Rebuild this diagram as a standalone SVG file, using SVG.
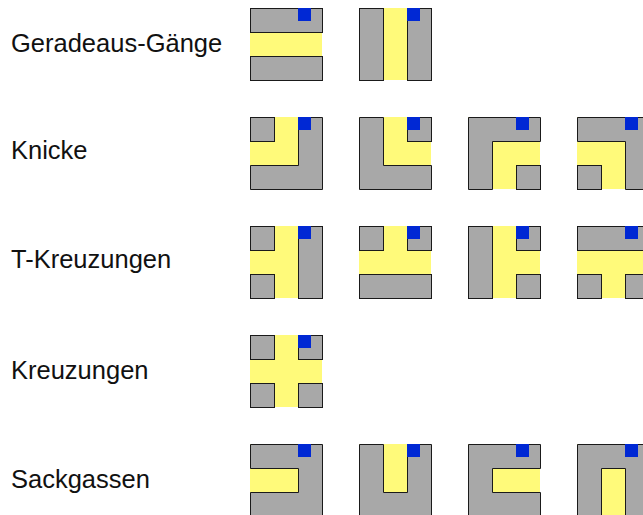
<svg xmlns="http://www.w3.org/2000/svg" width="643" height="515" viewBox="0 0 643 515">
<style>
.lbl{font-family:"Liberation Sans",Arial,Helvetica,sans-serif;font-size:25.5px;fill:#111}
.bg{fill:#fffa7a}
.w{fill:#a8a8a8;stroke:#1a1a1a;stroke-width:1}
.m{fill:#0028d4}
</style>
<rect width="643" height="515" fill="#fff"/>
<g id="labels">
<text class="lbl" x="11" y="52">Geradeaus-Gänge</text>
<text class="lbl" x="11" y="159">Knicke</text>
<text class="lbl" x="11" y="268">T-Kreuzungen</text>
<text class="lbl" x="11" y="379">Kreuzungen</text>
<text class="lbl" x="11" y="488">Sackgassen</text>
</g>
<g id="connectors"></g>
<!-- Row 1 -->
<g id="gerade1" transform="translate(250,8)"><rect class="bg" width="72" height="72"/><rect class="w" x="0.5" y="0.5" width="72" height="24"/><rect class="w" x="0.5" y="48.5" width="72" height="24"/><rect class="m" x="48" y="0" width="13" height="13"/></g>
<g id="gerade2" transform="translate(359,8)"><rect class="bg" width="72" height="72"/><rect class="w" x="0.5" y="0.5" width="24" height="72"/><rect class="w" x="48.5" y="0.5" width="24" height="72"/><rect class="m" x="48" y="0" width="13" height="13"/></g>
<!-- Row 2 -->
<g id="knick1" transform="translate(250,117)"><rect class="bg" width="72" height="72"/><rect class="w" x="0.5" y="0.5" width="24" height="24"/><polygon class="w" points="48.5,0.5 72.5,0.5 72.5,72.5 0.5,72.5 0.5,48.5 48.5,48.5"/><rect class="m" x="48" y="0" width="13" height="13"/></g>
<g id="knick2" transform="translate(359,117)"><rect class="bg" width="72" height="72"/><polygon class="w" points="0.5,0.5 24.5,0.5 24.5,48.5 72.5,48.5 72.5,72.5 0.5,72.5"/><rect class="w" x="48.5" y="0.5" width="24" height="24"/><rect class="m" x="48" y="0" width="13" height="13"/></g>
<g id="knick3" transform="translate(468,117)"><rect class="bg" width="72" height="72"/><polygon class="w" points="0.5,0.5 72.5,0.5 72.5,24.5 24.5,24.5 24.5,72.5 0.5,72.5"/><rect class="w" x="48.5" y="48.5" width="24" height="24"/><rect class="m" x="48" y="0" width="13" height="13"/></g>
<g id="knick4" transform="translate(577,117)"><rect class="bg" width="72" height="72"/><polygon class="w" points="0.5,0.5 72.5,0.5 72.5,72.5 48.5,72.5 48.5,24.5 0.5,24.5"/><rect class="w" x="0.5" y="48.5" width="24" height="24"/><rect class="m" x="48" y="0" width="13" height="13"/></g>
<!-- Row 3 -->
<g id="t1" transform="translate(250,226)"><rect class="bg" width="72" height="72"/><rect class="w" x="0.5" y="0.5" width="24" height="24"/><rect class="w" x="0.5" y="48.5" width="24" height="24"/><rect class="w" x="48.5" y="0.5" width="24" height="72"/><rect class="m" x="48" y="0" width="13" height="13"/></g>
<g id="t2" transform="translate(359,226)"><rect class="bg" width="72" height="72"/><rect class="w" x="0.5" y="0.5" width="24" height="24"/><rect class="w" x="48.5" y="0.5" width="24" height="24"/><rect class="w" x="0.5" y="48.5" width="72" height="24"/><rect class="m" x="48" y="0" width="13" height="13"/></g>
<g id="t3" transform="translate(468,226)"><rect class="bg" width="72" height="72"/><rect class="w" x="0.5" y="0.5" width="24" height="72"/><rect class="w" x="48.5" y="0.5" width="24" height="24"/><rect class="w" x="48.5" y="48.5" width="24" height="24"/><rect class="m" x="48" y="0" width="13" height="13"/></g>
<g id="t4" transform="translate(577,226)"><rect class="bg" width="72" height="72"/><rect class="w" x="0.5" y="0.5" width="72" height="24"/><rect class="w" x="0.5" y="48.5" width="24" height="24"/><rect class="w" x="48.5" y="48.5" width="24" height="24"/><rect class="m" x="48" y="0" width="13" height="13"/></g>
<!-- Row 4 -->
<g id="kreuz1" transform="translate(250,335)"><rect class="bg" width="72" height="72"/><rect class="w" x="0.5" y="0.5" width="24" height="24"/><rect class="w" x="48.5" y="0.5" width="24" height="24"/><rect class="w" x="0.5" y="48.5" width="24" height="24"/><rect class="w" x="48.5" y="48.5" width="24" height="24"/><rect class="m" x="48" y="0" width="13" height="13"/></g>
<!-- Row 5 -->
<g id="sack1" transform="translate(250,444)"><rect class="bg" width="72" height="72"/><polygon class="w" points="0.5,0.5 72.5,0.5 72.5,72.5 0.5,72.5 0.5,48.5 48.5,48.5 48.5,24.5 0.5,24.5"/><rect class="m" x="48" y="0" width="13" height="13"/></g>
<g id="sack2" transform="translate(359,444)"><rect class="bg" width="72" height="72"/><polygon class="w" points="0.5,0.5 24.5,0.5 24.5,48.5 48.5,48.5 48.5,0.5 72.5,0.5 72.5,72.5 0.5,72.5"/><rect class="m" x="48" y="0" width="13" height="13"/></g>
<g id="sack3" transform="translate(468,444)"><rect class="bg" width="72" height="72"/><polygon class="w" points="0.5,0.5 72.5,0.5 72.5,24.5 24.5,24.5 24.5,48.5 72.5,48.5 72.5,72.5 0.5,72.5"/><rect class="m" x="48" y="0" width="13" height="13"/></g>
<g id="sack4" transform="translate(577,444)"><rect class="bg" width="72" height="72"/><polygon class="w" points="0.5,0.5 72.5,0.5 72.5,72.5 48.5,72.5 48.5,24.5 24.5,24.5 24.5,72.5 0.5,72.5"/><rect class="m" x="48" y="0" width="13" height="13"/></g>
</svg>
